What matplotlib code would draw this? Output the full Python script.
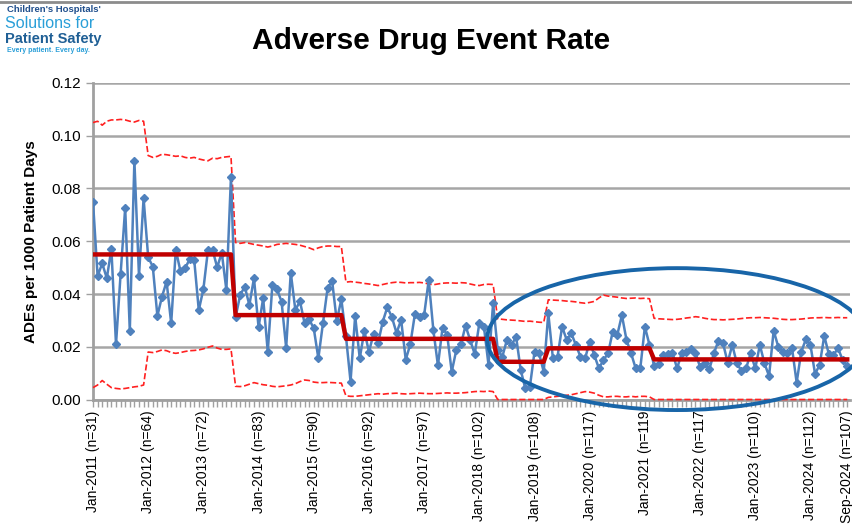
import matplotlib
matplotlib.use('Agg')
import matplotlib.pyplot as plt
from matplotlib.patches import Ellipse

plt.rcParams['font.family'] = ['Liberation Sans', 'DejaVu Sans']

# monthly ADE rate, Jan-2011 .. Sep-2024
rate = [0.075, 0.0468, 0.0516, 0.046, 0.057, 0.0209, 0.0475, 0.0727, 0.026, 0.0905, 0.0468, 0.0763,
        0.0539, 0.0504, 0.0317, 0.039, 0.0447, 0.0289, 0.0567, 0.0488, 0.0497, 0.0531, 0.053, 0.0339,
        0.0418, 0.0567, 0.0567, 0.0501, 0.0557, 0.0415, 0.0845, 0.0312, 0.0396, 0.0428, 0.0358, 0.046,
        0.0274, 0.0384, 0.0181, 0.0434, 0.0418, 0.0371, 0.0196, 0.0481, 0.0339, 0.0373, 0.0289, 0.0304,
        0.027, 0.0156, 0.0289, 0.0422, 0.0449, 0.0298, 0.038, 0.024, 0.0068, 0.0317, 0.0156, 0.026,
        0.0181, 0.0248, 0.0215, 0.0295, 0.035, 0.0312, 0.0252, 0.0302, 0.0151, 0.021, 0.0325, 0.0312,
        0.032, 0.0453, 0.0264, 0.0129, 0.0272, 0.0246, 0.0105, 0.0188, 0.0209, 0.028, 0.0226, 0.0172,
        0.0289, 0.0276, 0.0131, 0.0365, 0.0188, 0.0162, 0.0226, 0.0207, 0.0238, 0.0112, 0.0042, 0.0049,
        0.0181, 0.0175, 0.0105, 0.0327, 0.0156, 0.0162, 0.0276, 0.0226, 0.0251, 0.0207, 0.0162, 0.0156,
        0.0219, 0.0169, 0.0118, 0.015, 0.0175, 0.0257, 0.0245, 0.032, 0.0226, 0.0175, 0.0118, 0.0118,
        0.0276, 0.0207, 0.0127, 0.0135, 0.0169, 0.0172, 0.0177, 0.0118, 0.0175, 0.0181, 0.019, 0.0175,
        0.0124, 0.0137, 0.0114, 0.0175, 0.0223, 0.0213, 0.014, 0.0207, 0.0137, 0.0109, 0.0118, 0.0175,
        0.0118, 0.0207, 0.0137, 0.0089, 0.0261, 0.02, 0.0181, 0.0175, 0.0194, 0.0064, 0.0181, 0.0228,
        0.0207, 0.0097, 0.0131, 0.0241, 0.0172, 0.0169, 0.0194, 0.015, 0.0127]

# center line levels and the month where each phase starts
cl_levels = [0.055, 0.032, 0.023, 0.0143, 0.0194, 0.0152]
cl_starts = [0, 31, 55, 88, 99, 122]

ucl = [0.105, 0.1055, 0.104, 0.1055, 0.106, 0.106, 0.1062, 0.106, 0.1055, 0.1052, 0.1058, 0.1055,
       0.0925, 0.0918, 0.0922, 0.093, 0.0928, 0.0925, 0.0922, 0.0924, 0.0918, 0.0915, 0.0918, 0.0912,
       0.0908, 0.0905, 0.0915, 0.0913, 0.0918, 0.092, 0.0922,
       0.0595, 0.0592, 0.0595, 0.0592, 0.0588, 0.0585, 0.0582, 0.0578, 0.0582, 0.0588, 0.059, 0.0592,
       0.059, 0.0588, 0.0585, 0.058, 0.0575, 0.0568, 0.0575, 0.058, 0.0582, 0.0582, 0.058, 0.058,
       0.0445, 0.0447, 0.0445, 0.0443, 0.044, 0.0438, 0.0435, 0.0432, 0.0436, 0.044, 0.0443, 0.0445,
       0.0444, 0.0442, 0.0443, 0.0443, 0.0444, 0.0442, 0.0438, 0.0435, 0.0438, 0.0441, 0.0442, 0.0442,
       0.0441, 0.0443, 0.0442, 0.0438, 0.0434, 0.0432, 0.0436, 0.0437, 0.0436,
       0.0306, 0.0304, 0.0302, 0.0301, 0.03, 0.0298, 0.0296, 0.0297, 0.0295, 0.0293, 0.0292,
       0.0378, 0.0377, 0.0376, 0.0375, 0.0373, 0.0372, 0.037, 0.0367, 0.0365, 0.0368, 0.0372, 0.0385,
       0.0396, 0.0392, 0.039, 0.0388, 0.0385, 0.0383, 0.0384, 0.0385, 0.0383, 0.0384, 0.0382,
       0.0308, 0.0306, 0.0305, 0.0304, 0.0303, 0.0304, 0.0306, 0.0309, 0.0311, 0.0314, 0.0312, 0.0308,
       0.0305, 0.0303, 0.0303, 0.0302, 0.0303, 0.0304, 0.0305, 0.0307, 0.0309, 0.031, 0.031, 0.0311,
       0.031, 0.0309, 0.0308, 0.0306, 0.0304, 0.0303, 0.0303, 0.0304, 0.0305, 0.0307, 0.0309, 0.031,
       0.031, 0.0311, 0.031, 0.031, 0.0311, 0.031, 0.031]

lcl = [0.0045, 0.0055, 0.0072, 0.0058, 0.0045, 0.0042, 0.004, 0.0042, 0.0045, 0.0048, 0.005, 0.0055,
       0.018, 0.0178, 0.0182, 0.0188, 0.0185, 0.0178, 0.0175, 0.0178, 0.0182, 0.0185, 0.0186, 0.0188,
       0.0192, 0.0198, 0.0203, 0.0195, 0.019, 0.019, 0.0192,
       0.005, 0.0049, 0.0052, 0.0058, 0.0064, 0.006, 0.0056, 0.0054, 0.005, 0.0048, 0.005, 0.0052,
       0.0055, 0.006, 0.0068, 0.0074, 0.0072, 0.0066, 0.0064, 0.0064, 0.0065, 0.0064, 0.0063, 0.0062,
       0.0014, 0.0012, 0.0012, 0.0014, 0.0016, 0.0018, 0.002, 0.0022, 0.002, 0.0022, 0.0023, 0.0024,
       0.0022, 0.0021, 0.0022, 0.0023, 0.0024, 0.0023, 0.0022, 0.0022, 0.0023, 0.0024, 0.0025, 0.0024,
       0.0024, 0.0025, 0.0026, 0.0028, 0.003, 0.0031, 0.003, 0.0032, 0.003,
       0.0, 0.0, 0.0, 0.0, 0.0, 0.0, 0.0, 0.0, 0.0, 0.0, 0.0,
       0.0008, 0.001, 0.0012, 0.0014, 0.0016, 0.0018, 0.0022, 0.0026, 0.003, 0.0028, 0.0024, 0.0016,
       0.001, 0.001, 0.0012, 0.0012, 0.001, 0.001, 0.0012, 0.001, 0.0012, 0.0012, 0.001] + [0.0] * 43

tick_months = [0, 12, 24, 36, 48, 60, 72, 84, 96, 108, 120, 132, 144, 156, 164]
tick_labels = ['Jan-2011 (n=31)', 'Jan-2012 (n=64)', 'Jan-2013 (n=72)', 'Jan-2014 (n=83)',
               'Jan-2015 (n=90)', 'Jan-2016 (n=92)', 'Jan-2017 (n=97)', 'Jan-2018 (n=102)',
               'Jan-2019 (n=108)', 'Jan-2020 (n=117)', 'Jan-2021 (n=119', 'Jan-2022 (n=117',
               'Jan-2023 (n=110)', 'Jan-2024 (n=112)', 'Sep-2024 (n=107)']

x = list(range(len(rate)))
cl = []
for i in x:
    lvl = cl_levels[0]
    for s, v in zip(cl_starts, cl_levels):
        if i >= s:
            lvl = v
    cl.append(lvl)

fig = plt.figure(figsize=(8.52, 5.28), dpi=100)
ax = fig.add_axes([93 / 852, 128.5 / 528, 757 / 852, 316.5 / 528])

ax.plot(x, ucl, color='#ff2020', linestyle='--', linewidth=1.2, zorder=3)
ax.plot(x, lcl, color='#ff2020', linestyle='--', linewidth=1.2, zorder=3, clip_on=False)
ax.plot(x, rate, color='#4f81bd', linewidth=1.8, marker='D', markersize=4, zorder=4)
ax.plot(x, cl, color='#c00000', linewidth=3.2, zorder=5)

ax.set_xlim(0, 164.6)
ax.set_ylim(0, 0.12)
ax.set_yticks([0, 0.02, 0.04, 0.06, 0.08, 0.10, 0.12])
ax.set_yticklabels(['0.00', '0.02', '0.04', '0.06', '0.08', '0.10', '0.12'], fontsize=11)
ax.grid(axis='y', color='#a6a6a6', linewidth=1.8)
ax.set_axisbelow(True)

# one tick per month, labels only on Jan and the last month
labels = [''] * len(x)
for m, lab in zip(tick_months, tick_labels):
    labels[m] = lab
ax.set_xticks(x)
ax.set_xticklabels(labels, rotation=90, fontsize=10)
ax.tick_params(axis='x', length=5, width=1, color='#a0a0a0', pad=3)
ax.tick_params(axis='y', length=5, width=1, color='#a0a0a0')

for side in ['top', 'right']:
    ax.spines[side].set_visible(False)
for side in ['left', 'bottom']:
    ax.spines[side].set_color('#a0a0a0')
    ax.spines[side].set_linewidth(2)

ax.set_ylabel('ADEs per 1000 Patient Days', fontsize=11, fontweight='bold', labelpad=10)

# highlight ellipse over recent years
ell = Ellipse((127, 0.0229), 82.6, 0.0538, fill=False, edgecolor='#1865a8',
              linewidth=2.8, clip_on=False, zorder=6)
ax.add_patch(ell)

fig.text(431 / 852, 1 - 41 / 528, 'Adverse Drug Event Rate', fontsize=21.5, fontweight='bold',
         ha='center', va='center')

# logo text
fig.text(7 / 852, 1 - 10 / 528, "Children's Hospitals'", fontsize=6.8, fontweight='bold',
         color='#1f4e8c', va='center')
fig.text(5 / 852, 1 - 24 / 528, 'Solutions for', fontsize=11.5, color='#2a9fd8', va='center')
fig.text(5 / 852, 1 - 38.5 / 528, 'Patient Safety', fontsize=10.5, fontweight='bold',
         color='#1f5f95', va='center')
fig.text(7 / 852, 1 - 50.5 / 528, 'Every patient. Every day.', fontsize=5, fontweight='bold',
         color='#2a9fd8', va='center')

fig.add_artist(plt.Line2D([0, 1], [1 - 1.5 / 528, 1 - 1.5 / 528], transform=fig.transFigure,
                          color='#8c8c8c', linewidth=2))

plt.savefig('out.png', dpi=100)
